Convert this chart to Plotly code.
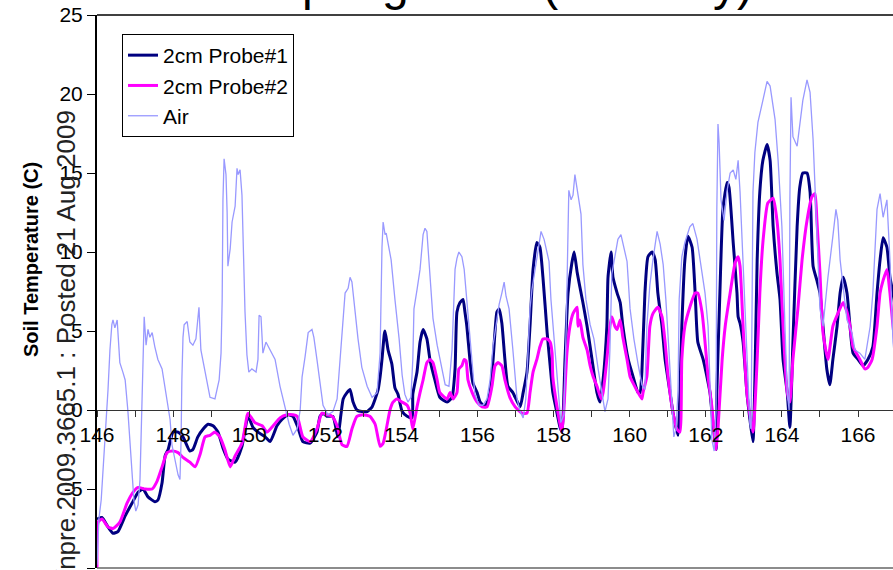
import plotly.graph_objects as go

# ---------------- data (day of year, temperature C) ----------------
probe1_day = [146.00, 146.13, 146.29, 146.42, 146.55, 146.74, 146.92, 147.08, 147.21, 147.34, 147.52, 147.60,
              147.71, 147.79, 147.87, 148.00, 148.13, 148.26, 148.44, 148.52, 148.65, 148.79, 148.92, 149.05,
              149.18, 149.31, 149.44, 149.63, 149.81, 149.97, 150.10, 150.23, 150.42, 150.55, 150.73, 150.86,
              151.02, 151.15, 151.28, 151.41, 151.60, 151.78, 151.86, 151.94, 152.04, 152.20, 152.33, 152.41,
              152.47, 152.57, 152.65, 152.73, 152.83, 152.96, 153.10, 153.23, 153.31, 153.39, 153.44, 153.49,
              153.55, 153.57, 153.65, 153.75, 153.83, 153.91, 154.02, 154.15, 154.28, 154.30, 154.41, 154.49,
              154.57, 154.67, 154.75, 154.88, 155.01, 155.20, 155.33, 155.41, 155.46, 155.54, 155.62, 155.67,
              155.72, 155.80, 155.88, 155.99, 156.07, 156.20, 156.33, 156.41, 156.51, 156.57, 156.64, 156.72,
              156.80, 156.93, 157.12, 157.20, 157.30, 157.38, 157.46, 157.56, 157.64, 157.72, 157.83, 157.91,
              157.98, 158.09, 158.17, 158.22, 158.30, 158.38, 158.48, 158.54, 158.62, 158.69, 158.77, 158.88,
              159.01, 159.14, 159.22, 159.30, 159.40, 159.43, 159.51, 159.56, 159.67, 159.75, 159.82, 159.96,
              160.09, 160.22, 160.27, 160.32, 160.40, 160.48, 160.59, 160.67, 160.74, 160.85, 160.93, 161.06,
              161.14, 161.27, 161.32, 161.37, 161.45, 161.53, 161.64, 161.72, 161.79, 161.93, 162.03, 162.11,
              162.19, 162.27, 162.29, 162.37, 162.45, 162.56, 162.61, 162.72, 162.82, 162.85, 162.90, 162.98,
              163.08, 163.16, 163.24, 163.29, 163.35, 163.42, 163.50, 163.61, 163.69, 163.77, 163.87, 163.95,
              164.03, 164.14, 164.21, 164.29, 164.40, 164.47, 164.55, 164.66, 164.74, 164.82, 164.92, 165.00,
              165.08, 165.18, 165.26, 165.34, 165.45, 165.53, 165.61, 165.71, 165.79, 165.87, 166.00, 166.13,
              166.26, 166.39, 166.50, 166.58, 166.66, 166.76, 166.84, 166.92, 167.02]
probe1_temp = [-6.9, -6.8, -7.4, -7.8, -7.7, -6.7, -5.9, -5.2, -5.0, -5.5, -5.8, -5.7,
               -4.6, -2.9, -2.5, -1.4, -1.4, -1.7, -2.6, -2.5, -1.7, -1.2, -0.9, -1.0,
               -1.4, -2.4, -3.1, -3.3, -2.3, -0.4, -1.1, -1.4, -1.7, -2.0, -1.0, -0.6,
               -0.3, -0.4, -1.1, -2.0, -2.1, -1.4, -0.4, -0.2, -0.4, -0.4, -1.7, -0.3,
               0.7, 1.1, 1.3, 0.5, 0.0, -0.1, -0.1, 0.2, 0.7, 1.3, 2.1, 3.2,
               4.8, 5.0, 3.8, 2.9, 1.4, 1.0, -0.1, -0.4, -0.5, 1.0, 2.4, 4.3,
               5.1, 4.5, 3.2, 1.9, 0.8, 0.5, 0.8, 2.6, 6.2, 6.8, 7.0, 6.2,
               5.3, 3.2, 1.7, 1.1, 0.5, 0.2, 1.1, 3.2, 6.2, 6.4, 5.5, 3.2,
               1.5, 1.1, 0.2, 1.1, 2.4, 5.3, 8.9, 10.6, 10.3, 8.4, 4.9, 2.8,
               1.1, -0.2, -1.1, -1.4, 3.2, 7.4, 9.3, 10.0, 8.7, 7.8, 6.8, 5.3,
               3.2, 1.1, 0.5, 1.9, 5.3, 8.4, 10.0, 8.4, 7.4, 6.8, 5.3, 3.2,
               2.1, 1.1, 1.1, 2.4, 7.4, 9.7, 10.0, 9.5, 7.4, 5.3, 3.2, 1.1,
               -0.2, -1.6, 1.1, 5.3, 9.5, 11.0, 10.3, 7.4, 4.3, 3.2, 2.1, 1.1,
               -0.9, -2.5, 1.1, 7.4, 12.7, 14.4, 14.1, 10.6, 7.4, 5.9, 5.5, 4.3,
               1.1, -0.6, -2.0, 1.9, 9.5, 13.8, 15.8, 16.8, 15.8, 11.6, 8.7, 7.0,
               3.2, 1.1, -1.1, 4.3, 11.6, 14.1, 15.0, 15.0, 13.8, 9.1, 8.2, 7.4,
               5.3, 2.6, 1.6, 3.2, 5.3, 7.4, 8.4, 7.4, 5.3, 3.6, 3.2, 2.8,
               3.2, 4.0, 7.4, 9.5, 10.9, 10.3, 8.4, 7.4, 5.7]

probe2_day = [146.00, 146.03, 146.13, 146.29, 146.42, 146.60, 146.79, 146.95, 147.08, 147.26, 147.45, 147.58,
              147.71, 147.84, 147.97, 148.13, 148.26, 148.44, 148.58, 148.71, 148.84, 148.97, 149.10, 149.23,
              149.36, 149.50, 149.63, 149.81, 149.94, 149.97, 150.15, 150.34, 150.47, 150.63, 150.81, 150.99,
              151.15, 151.26, 151.41, 151.60, 151.78, 151.91, 152.04, 152.18, 152.31, 152.44, 152.57, 152.70,
              152.83, 152.99, 153.17, 153.31, 153.44, 153.52, 153.62, 153.70, 153.78, 153.88, 154.02, 154.15,
              154.23, 154.30, 154.41, 154.49, 154.57, 154.67, 154.75, 154.83, 154.94, 155.01, 155.20, 155.28,
              155.36, 155.46, 155.51, 155.59, 155.65, 155.70, 155.75, 155.86, 155.99, 156.12, 156.25, 156.38,
              156.46, 156.54, 156.64, 156.72, 156.85, 156.99, 157.17, 157.30, 157.38, 157.46, 157.56, 157.64,
              157.72, 157.83, 157.91, 157.96, 157.98, 158.09, 158.17, 158.22, 158.27, 158.35, 158.43, 158.51,
              158.62, 158.64, 158.69, 158.77, 158.88, 158.96, 159.04, 159.14, 159.25, 159.30, 159.40, 159.48,
              159.53, 159.61, 159.67, 159.75, 159.82, 159.93, 160.01, 160.09, 160.22, 160.32, 160.35, 160.45,
              160.53, 160.61, 160.74, 160.85, 160.93, 161.01, 161.14, 161.24, 161.32, 161.37, 161.45, 161.58,
              161.72, 161.79, 161.90, 161.98, 162.06, 162.16, 162.27, 162.32, 162.43, 162.51, 162.64, 162.77,
              162.85, 162.90, 162.98, 163.08, 163.24, 163.35, 163.42, 163.50, 163.63, 163.77, 163.87, 163.95,
              164.03, 164.14, 164.21, 164.29, 164.42, 164.53, 164.66, 164.79, 164.87, 164.92, 165.00, 165.08,
              165.21, 165.34, 165.47, 165.61, 165.71, 165.79, 165.87, 166.05, 166.18, 166.26, 166.37, 166.50,
              166.58, 166.66, 166.76, 166.84, 166.92, 167.02]
probe2_temp = [-10.1, -7.1, -6.9, -7.4, -7.5, -7.1, -5.9, -5.2, -4.9, -5.0, -5.0, -4.5,
               -3.6, -2.7, -2.6, -2.7, -3.0, -3.3, -3.6, -2.8, -1.7, -1.6, -1.4, -1.7,
               -2.5, -3.6, -2.9, -2.1, -0.4, -0.2, -0.8, -1.0, -1.4, -1.0, -0.5, -0.3,
               -0.3, -0.4, -1.7, -2.0, -1.2, -0.2, -0.3, -0.4, -1.0, -2.2, -2.3, -1.2,
               -0.4, -0.3, -0.4, -0.9, -2.3, -2.1, -1.0, 0.0, 0.5, 0.7, 0.5, 0.3,
               -0.2, -1.2, 0.2, 1.1, 1.9, 3.0, 3.2, 3.0, 1.9, 1.1, 0.7, 1.1,
               0.7, 1.1, 2.6, 2.8, 3.2, 3.1, 1.9, 1.1, 0.5, 0.2, 0.2, 1.5,
               2.8, 3.0, 2.8, 1.9, 0.8, 0.2, -0.2, -0.2, 1.1, 2.4, 3.2, 4.0,
               4.5, 4.5, 4.3, 3.6, 2.1, 0.2, -0.9, -1.4, 0.0, 3.6, 5.3, 6.1,
               6.5, 5.3, 5.7, 4.6, 3.8, 2.8, 2.1, 1.5, 0.7, 1.1, 3.2, 5.3,
               5.9, 5.3, 5.1, 5.7, 4.6, 3.2, 2.1, 1.7, 1.1, 0.7, 1.1, 2.1,
               5.3, 6.1, 6.5, 5.9, 4.3, 2.1, -0.2, -1.2, -1.4, 3.2, 5.3, 6.5,
               7.4, 7.4, 6.2, 4.3, 2.1, 0.2, -2.5, -1.2, 3.2, 5.3, 7.4, 9.3,
               9.7, 9.1, 5.3, 1.1, -1.4, 3.2, 7.4, 10.6, 13.1, 13.4, 12.0, 9.5,
               5.3, 1.1, 0.5, 3.2, 6.4, 9.5, 12.0, 13.5, 13.7, 12.0, 8.7, 4.9,
               3.2, 5.3, 6.1, 6.8, 6.2, 5.3, 4.0, 3.2, 2.6, 2.7, 3.2, 5.3,
               7.4, 8.2, 8.9, 7.4, 5.3, 3.2]

air_day = [146.00, 146.05, 146.11, 146.18, 146.24, 146.29, 146.34, 146.39, 146.42, 146.47, 146.53, 146.60,
           146.68, 146.74, 146.81, 146.89, 146.97, 147.02, 147.08, 147.13, 147.16, 147.18, 147.21, 147.24,
           147.29, 147.34, 147.39, 147.45, 147.52, 147.60, 147.71, 147.79, 147.87, 147.92, 147.97, 148.05,
           148.13, 148.18, 148.21, 148.23, 148.26, 148.29, 148.37, 148.44, 148.52, 148.60, 148.68, 148.73,
           148.84, 148.97, 149.10, 149.21, 149.26, 149.29, 149.31, 149.34, 149.36, 149.39, 149.42, 149.44,
           149.50, 149.55, 149.63, 149.68, 149.71, 149.76, 149.81, 149.84, 149.89, 149.94, 149.99, 150.07,
           150.18, 150.23, 150.26, 150.31, 150.36, 150.44, 150.55, 150.68, 150.81, 150.94, 151.05, 151.15,
           151.26, 151.34, 151.39, 151.47, 151.55, 151.65, 151.70, 151.78, 151.86, 151.94, 152.07, 152.20,
           152.31, 152.39, 152.47, 152.52, 152.60, 152.65, 152.70, 152.78, 152.86, 152.96, 153.10, 153.23,
           153.36, 153.44, 153.46, 153.49, 153.52, 153.57, 153.60, 153.65, 153.73, 153.83, 153.94, 154.02,
           154.09, 154.17, 154.25, 154.30, 154.33, 154.41, 154.49, 154.57, 154.62, 154.67, 154.75, 154.83,
           154.94, 155.04, 155.15, 155.25, 155.33, 155.41, 155.46, 155.51, 155.59, 155.65, 155.72, 155.83,
           155.93, 156.04, 156.14, 156.25, 156.33, 156.41, 156.49, 156.57, 156.64, 156.70, 156.75, 156.83,
           156.93, 157.04, 157.12, 157.20, 157.27, 157.33, 157.38, 157.43, 157.51, 157.59, 157.67, 157.75,
           157.83, 157.88, 157.93, 158.01, 158.09, 158.14, 158.19, 158.27, 158.33, 158.38, 158.40, 158.46,
           158.51, 158.56, 158.62, 158.67, 158.72, 158.77, 158.85, 158.96, 159.06, 159.17, 159.27, 159.35,
           159.43, 159.48, 159.53, 159.61, 159.69, 159.77, 159.85, 159.93, 160.01, 160.11, 160.22, 160.32,
           160.40, 160.45, 160.53, 160.61, 160.72, 160.80, 160.88, 160.95, 161.03, 161.11, 161.16, 161.22,
           161.27, 161.30, 161.37, 161.45, 161.58, 161.66, 161.77, 161.85, 161.98, 162.06, 162.11, 162.16,
           162.22, 162.27, 162.29, 162.32, 162.35, 162.40, 162.48, 162.56, 162.64, 162.72, 162.79, 162.85,
           162.90, 162.98, 163.06, 163.11, 163.16, 163.19, 163.21, 163.24, 163.29, 163.37, 163.50, 163.61,
           163.69, 163.77, 163.82, 163.90, 164.00, 164.08, 164.14, 164.19, 164.21, 164.24, 164.29, 164.40,
           164.47, 164.55, 164.66, 164.74, 164.82, 164.92, 165.00, 165.08, 165.21, 165.34, 165.42, 165.47,
           165.53, 165.61, 165.71, 165.84, 165.92, 166.05, 166.18, 166.32, 166.39, 166.50, 166.58, 166.66,
           166.76, 166.84, 166.92, 167.02]
air_temp = [-9.8, -6.9, -5.7, -3.1, -0.6, 1.3, 3.8, 5.4, 5.7, 5.2, 5.7, 3.0,
            2.4, 1.9, 0.0, -3.1, -5.7, -6.4, -6.0, -4.4, -1.9, 0.7, 3.8, 5.9,
            4.1, 5.1, 4.6, 4.9, 4.0, 3.2, 2.6, 1.3, 0.3, -0.6, -2.2, -3.1,
            -4.1, -4.4, -1.9, 1.9, 4.6, 5.4, 5.6, 4.3, 4.1, 4.5, 6.5, 3.8,
            2.4, 0.8, 0.7, 1.9, 3.6, 7.0, 13.3, 15.9, 15.5, 14.9, 12.5, 9.1,
            10.2, 11.9, 12.9, 15.3, 14.9, 15.2, 13.6, 10.8, 6.2, 3.5, 2.4, 2.6,
            2.4, 3.2, 6.0, 5.9, 3.6, 4.3, 3.8, 3.2, 1.5, 0.2, -0.9, -1.6,
            -1.2, 0.0, 2.1, 3.4, 4.9, 5.1, 4.6, 3.2, 1.9, 0.3, -0.3, -0.1,
            0.7, 3.2, 6.2, 7.4, 7.7, 8.4, 8.1, 6.2, 4.5, 2.7, 1.5, 0.8,
            1.1, 3.6, 7.6, 10.3, 11.9, 11.1, 11.2, 10.6, 9.5, 7.0, 4.5, 2.2,
            1.0, 0.5, 0.8, 3.2, 6.4, 7.6, 8.9, 11.1, 11.5, 11.3, 8.3, 5.8,
            4.1, 2.9, 1.6, 1.5, 3.8, 8.9, 9.6, 10.0, 9.7, 8.9, 7.0, 3.5,
            1.0, 0.3, 0.3, 0.7, 1.9, 4.1, 5.3, 6.7, 7.4, 8.1, 7.2, 6.4,
            3.8, 0.7, -0.1, -0.5, 0.7, 3.8, 6.4, 7.6, 8.9, 10.2, 11.3, 10.8,
            10.0, 9.4, 7.0, 4.5, 2.2, 0.7, -0.8, -0.3, 5.1, 11.4, 13.9, 13.3,
            13.6, 14.9, 13.9, 13.0, 12.4, 9.2, 7.0, 5.4, 4.5, 2.6, 1.0, -0.1,
            0.7, 3.8, 8.6, 9.8, 10.8, 11.1, 10.2, 9.4, 6.4, 4.5, 2.9, 1.6,
            1.3, 5.3, 7.9, 9.5, 11.3, 10.5, 9.2, 7.0, 3.8, 0.0, -1.7, -1.2,
            1.3, 7.0, 9.7, 10.6, 11.6, 11.8, 10.8, 9.5, 7.4, 5.3, 1.9, -1.9,
            -2.6, 0.0, 12.7, 18.1, 16.9, 13.3, 12.0, 13.9, 15.0, 15.2, 14.6, 15.8,
            13.8, 9.5, 5.3, 1.9, -0.9, -1.2, 7.0, 13.8, 16.3, 18.2, 19.6, 20.8,
            20.5, 19.0, 18.4, 15.8, 11.6, 5.3, 1.1, 0.0, 13.3, 19.8, 17.3, 16.7,
            17.9, 19.6, 20.9, 20.1, 17.1, 11.6, 6.4, 5.3, 8.4, 11.0, 12.7, 12.0,
            9.5, 7.8, 5.7, 4.9, 3.8, 3.6, 3.2, 5.3, 7.4, 12.7, 13.7, 12.2,
            13.3, 9.5, 4.3, 1.9]

x_tick_values = [146, 148, 150, 152, 154, 156, 158, 160, 162, 164, 166]
x_tick_labels = [str(v) for v in x_tick_values]
y_tick_values = [-10, -5, 0, 5, 10, 15, 20, 25]
y_tick_labels = [str(v) for v in y_tick_values]

series_names = ["2cm Probe#1", "2cm Probe#2", "Air"]

title_text = "Spring 2005 (Shrubby)"
y_title = "Soil Temperature (C)"
stamp_text = "Nature Precedings : doi:10.1038/npre.2009.3665.1 : Posted 21 Aug 2009"

# ---------------- figure ----------------
FONT = "Liberation Sans, Arial, sans-serif"
W, H = 893, 570
ML, MR, MT, MB = 97, 0, 15, 2
plot_w = W - ML - MR
px_per_day = 38.05
x_min = 146
x_max = x_min + plot_w / px_per_day
y_min, y_max = -10, 25
zero_pos = (0 - y_min) / (y_max - y_min)

fig = go.Figure()
fig.add_trace(go.Scatter(x=probe1_day, y=probe1_temp, mode="lines", name=series_names[0],
                         line=dict(color="#000080", width=3, shape="spline", smoothing=0.5)))
fig.add_trace(go.Scatter(x=probe2_day, y=probe2_temp, mode="lines", name=series_names[1],
                         line=dict(color="#FF00FF", width=3, shape="spline", smoothing=0.5)))
fig.add_trace(go.Scatter(x=air_day, y=air_temp, mode="lines", name=series_names[2],
                         line=dict(color="#9999FF", width=1.3)))

def ypix_to_paper(py):
    return 1 - (py - MT) / (H - MT - MB)

def xpix_to_paper(px):
    return (px - ML) / plot_w

fig.update_layout(
    width=W, height=H,
    margin=dict(l=ML, r=MR, t=MT, b=MB, pad=0),
    paper_bgcolor="white", plot_bgcolor="white",
    font=dict(family=FONT, color="black", size=21),
    showlegend=True,
    legend=dict(x=xpix_to_paper(122), y=ypix_to_paper(34), xanchor="left", yanchor="top",
                bgcolor="white", bordercolor="black", borderwidth=1,
                font=dict(family=FONT, size=21, color="black"),
                itemwidth=30, tracegroupgap=0),
    xaxis=dict(range=[x_min, x_max], anchor="free", position=zero_pos,
               tickmode="array", tickvals=x_tick_values, ticktext=x_tick_labels,
               ticks="outside", ticklen=6, tickwidth=1, tickcolor="#333",
               minor=dict(dtick=1, tick0=146, ticks="outside", ticklen=6, tickwidth=1, tickcolor="#333"),
               showline=True, linecolor="#333", linewidth=1,
               showgrid=False, zeroline=False,
               tickfont=dict(family=FONT, size=21, color="black")),
    yaxis=dict(range=[y_min, y_max], tickmode="array", tickvals=y_tick_values, ticktext=y_tick_labels,
               ticks="outside", ticklen=8, tickwidth=1, tickcolor="black",
               showline=True, linecolor="black", linewidth=2,
               showgrid=False, zeroline=False,
               tickfont=dict(family=FONT, size=21, color="black")),
    shapes=[
        dict(type="line", xref="paper", yref="paper", x0=0, x1=1, y0=1, y1=1,
             line=dict(color="black", width=1.5)),
        dict(type="line", xref="paper", yref="paper", x0=0, x1=1, y0=0, y1=0,
             line=dict(color="#666", width=1.5)),
    ],
    annotations=[
        dict(text=title_text, xref="paper", yref="paper", x=xpix_to_paper(511), y=ypix_to_paper(12),
             xanchor="center", yanchor="bottom", showarrow=False,
             font=dict(family=FONT, size=48, color="black")),
        dict(text="<b>" + y_title + "</b>", xref="paper", yref="paper",
             x=xpix_to_paper(31), y=ypix_to_paper(260), xanchor="center", yanchor="middle",
             textangle=-90, showarrow=False, font=dict(family=FONT, size=20, color="black")),
        dict(text=stamp_text, xref="paper", yref="paper",
             x=xpix_to_paper(66), y=ypix_to_paper(108), xanchor="center", yanchor="top",
             textangle=-90, showarrow=False, font=dict(family=FONT, size=26, color="#222")),
    ],
)

fig.write_html("out.html")
